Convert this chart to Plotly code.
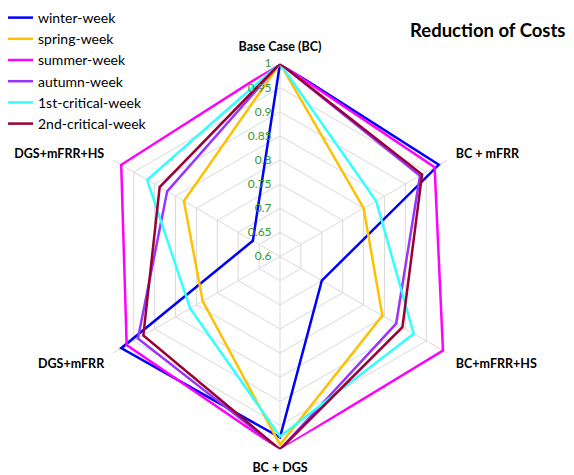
import plotly.graph_objects as go

categories = ["Base Case (BC)", "BC + mFRR", "BC+mFRR+HS", "BC + DGS", "DGS+mFRR", "DGS+mFRR+HS"]

winter_week = [1.0, 0.98, 0.70, 0.975, 0.98, 0.665]
spring_week = [1.0, 0.80, 0.845, 0.99, 0.785, 0.83]
summer_week = [1.0, 0.97, 0.99, 1.0, 0.967, 0.98]
autumn_week = [1.0, 0.935, 0.878, 1.0, 0.94, 0.87]
critical1_week = [1.0, 0.83, 0.92, 0.973, 0.815, 0.918]
critical2_week = [1.0, 0.94, 0.893, 1.0, 0.927, 0.888]

series_names = ["winter-week", "spring-week", "summer-week", "autumn-week",
                "1st-critical-week", "2nd-critical-week"]
series_values = [winter_week, spring_week, summer_week, autumn_week,
                 critical1_week, critical2_week]
series_colors = ["#0000ff", "#ffc000", "#ff00ff", "#9933ff", "#33ffff", "#990033"]

radial_ticks = [0.6, 0.65, 0.7, 0.75, 0.8, 0.85, 0.9, 0.95, 1.0]
radial_tick_text = ["0.6", "0.65", "0.7", "0.75", "0.8", "0.85", "0.9", "0.95", "1"]

fig = go.Figure()
for name, vals, col in zip(series_names, series_values, series_colors):
    fig.add_trace(go.Scatterpolar(
        r=vals + [vals[0]],
        theta=categories + [categories[0]],
        mode="lines",
        name=name,
        line=dict(color=col, width=2.5),
    ))

W, H = 574, 475
off = 8  # page body margin
cx, cy, R = 280 - off, 256.5 - off, 193
pad = "\u00a0\u00a0"
fig.update_layout(
    width=W, height=H,
    margin=dict(l=0, r=0, t=0, b=0, autoexpand=False),
    paper_bgcolor="white",
    plot_bgcolor="white",
    font=dict(family="Lato, Open Sans, sans-serif", color="black"),
    polar=dict(
        domain=dict(x=[(cx - R) / W, (cx + R) / W],
                    y=[(H - cy - R) / H, (H - cy + R) / H]),
        bgcolor="white",
        gridshape="linear",
        angularaxis=dict(
            direction="clockwise",
            rotation=90,
            showline=False,
            gridcolor="#d9d9d9",
            gridwidth=1,
            tickfont=dict(size=12.5, color="black", family="Lato, sans-serif", weight="bold"),
            ticks="outside",
            ticklen=7,
            tickcolor="rgba(0,0,0,0)",
        ),
        radialaxis=dict(
            range=[0.6, 1.0],
            tickvals=radial_ticks,
            ticktext=[t + pad for t in radial_tick_text],
            angle=90,
            tickangle=90,
            side="counterclockwise",
            showline=False,
            gridcolor="#d9d9d9",
            gridwidth=1,
            ticks="",
            tickfont=dict(size=12, color="#339933"),
        ),
    ),
    legend=dict(
        x=-(off + 2) / W, y=1 + 6 / H, xanchor="left", yanchor="top",
        font=dict(size=14, color="black"),
        bgcolor="rgba(0,0,0,0)",
        itemwidth=30,
    ),
    annotations=[dict(
        text="<b>Reduction of Costs</b>",
        x=(408 - off) / W, y=1 - (30 - off) / H, xref="paper", yref="paper",
        xanchor="left", yanchor="middle", showarrow=False,
        font=dict(size=18.5, color="black", family="Lato, sans-serif"),
    )],
)

fig.write_html("out.html")
